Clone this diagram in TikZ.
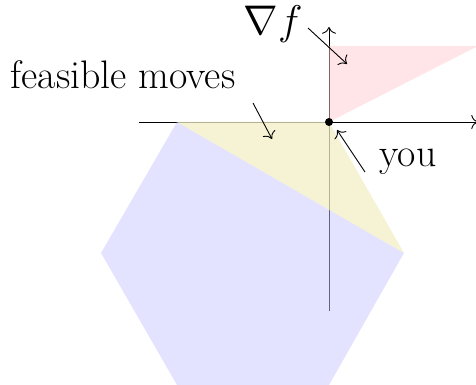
\documentclass[tikz,border=0pt]{standalone}
\usetikzlibrary{arrows.meta}
\definecolor{hexblue}{RGB}{199,199,255}
\definecolor{feasyel}{RGB}{243,238,198}
\definecolor{gradpink}{RGB}{255,201,209}
\begin{document}
\begin{tikzpicture}[x=0.5pt,y=-0.5pt,
  axis/.style={line width=0.45pt, -{To[scale=1.3]}},
  lbl/.style={font=\fontsize{19.9}{24}\selectfont, inner sep=0pt, anchor=base},
  pointer/.style={line width=0.45pt, -{To[scale=1.3]}}]
\useasboundingbox (0,0) rectangle (476,385);
% axes
\coordinate (xl) at (139,122);
\coordinate (xr) at (478,122);
\coordinate (yb) at (329,311);
\coordinate (yt) at (329,27);
\draw[axis] (xl) -- (xr);
\draw[axis] (yb) -- (yt);
% regions
\fill[hexblue, fill opacity=0.5] (177,122) -- (404,253) -- (329,385) -- (177,385) -- (101,253) -- cycle;
\fill[feasyel, fill opacity=0.75] (177,122) -- (329,122) -- (404,253) -- cycle;
\fill[gradpink, fill opacity=0.5] (329,122) -- (329,46) -- (476,46) -- (476,47) -- cycle;
% you point
\node[circle, fill=black, inner sep=0pt, minimum size=4pt] (you) at (329,122) {};
% labels
\node[lbl] (grad) at (273,35) {$\nabla f$};
\node[lbl] (feas) at (123,89) {feasible moves};
\node[lbl] (youl) at (408,166) {you};
% pointers
\coordinate (g1) at (308,28);
\coordinate (g2) at (347,64);
\coordinate (f1) at (253,103);
\coordinate (f2) at (272,139);
\coordinate (y1) at (365,172);
\coordinate (y2) at (337,130);
\draw[pointer] (g1) -- (g2);
\draw[pointer] (f1) -- (f2);
\draw[pointer] (y1) -- (y2);
\end{tikzpicture}
\end{document}
